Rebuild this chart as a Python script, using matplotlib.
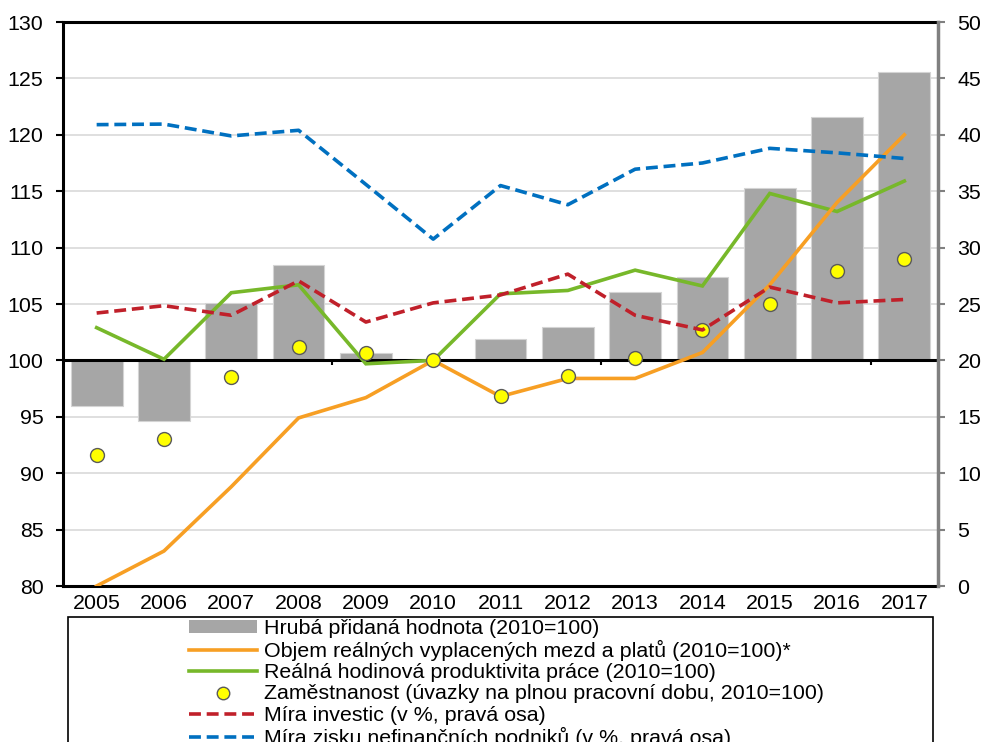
import matplotlib
matplotlib.use("Agg")
import matplotlib.pyplot as plt
from matplotlib.lines import Line2D
from matplotlib.patches import Patch, Rectangle
import numpy as np

plt.rcParams['font.family'] = ['Liberation Sans', 'DejaVu Sans']

years = ['2005', '2006', '2007', '2008', '2009', '2010', '2011', '2012',
         '2013', '2014', '2015', '2016', '2017']
gva = [96.0, 94.6, 105.1, 108.5, 100.7, 100.0, 101.9, 103.0, 106.1, 107.4, 115.3, 121.6, 125.6]
wages = [80.0, 83.1, 88.8, 94.9, 96.7, 100.0, 96.8, 98.4, 98.4, 100.7, 106.7, 114.0, 120.0]
productivity = [102.9, 100.1, 106.0, 106.7, 99.7, 100.0, 105.9, 106.2, 108.0, 106.6, 114.8, 113.2, 115.9]
employment = [91.6, 93.0, 98.5, 101.2, 100.7, 100.0, 96.8, 98.6, 100.2, 102.7, 105.0, 107.9, 109.0]
investment = [24.2, 24.85, 24.0, 27.05, 23.4, 25.1, 25.8, 27.65, 24.0, 22.7, 26.5, 25.1, 25.4]
profit = [40.9, 40.95, 39.9, 40.4, 35.6, 30.75, 35.5, 33.8, 36.95, 37.5, 38.8, 38.4, 37.9]

labels = ['Hrubá přidaná hodnota (2010=100)',
          'Objem reálných vyplacených mezd a platů (2010=100)*',
          'Reálná hodinová produktivita práce (2010=100)',
          'Zaměstnanost (úvazky na plnou pracovní dobu, 2010=100)',
          'Míra investic (v %, pravá osa)',
          'Míra zisku nefinančních podniků (v %, pravá osa)']

FS = 15.4
W, H = 983, 742
fig = plt.figure(figsize=(W / 100, H / 100), dpi=100)
ax = fig.add_axes([63 / W, 1 - 586 / H, (938 - 63) / W, (586 - 22) / H])
ax2 = ax.twinx()

x = np.arange(len(years))
base = 100
ax.set_xlim(-0.5, len(years) - 0.5)
ax.set_ylim(80, 130)
ax2.set_ylim(0, 50)

ax.set_yticks(np.arange(80, 131, 5))
ax2.set_yticks(np.arange(0, 51, 5))
ax.yaxis.grid(True, color='#D9D9D9', lw=1.2, zorder=0)
ax.set_axisbelow(True)

bar_col = '#A6A6A6'
ax.bar(x, np.array(gva) - base, bottom=base, width=0.77, color=bar_col,
       edgecolor='#D4D4D4', lw=0.8, zorder=2)
ax.axhline(base, color='black', lw=2.2, zorder=3)
ax.vlines([3.5, 7.5, 11.5], base - 0.45, base, color='black', lw=1.5, zorder=3)

ax.plot(x, productivity, color='#77B82A', lw=2.6, zorder=4, solid_joinstyle='miter')
ax.plot(x, wages, color='#F79F24', lw=2.6, zorder=5, solid_joinstyle='miter')
ax.plot(x, employment, ls='none', marker='o', ms=10, mfc='#FFFF00',
        mec='#5A5A5A', mew=1.0, zorder=6)

ax2.plot(x, investment, color='#C0202A', lw=2.6, dashes=(3.3, 1.6), zorder=5)
ax2.plot(x, profit, color='#0070C0', lw=2.6, dashes=(3.3, 1.6), zorder=5)

ax.set_xticks(x)
ax.set_xticklabels(years)
ax.tick_params(axis='x', length=0, pad=6, labelsize=FS)
ax.tick_params(axis='y', length=5, width=1.5, color='black', pad=9, labelsize=FS, direction='out')
ax2.tick_params(axis='y', length=5, width=1.5, color='#808080', pad=9, labelsize=FS, direction='out')

for s in ['left', 'top', 'bottom']:
    ax.spines[s].set_color('black')
    ax.spines[s].set_linewidth(2.2)
ax.spines['right'].set_visible(False)
for s in ['left', 'top', 'bottom']:
    ax2.spines[s].set_visible(False)
ax2.spines['right'].set_color('#808080')
ax2.spines['right'].set_linewidth(2.5)

# legend frame
fig.patches.append(Rectangle((68 / W, -0.05), (933 - 68) / W, (742 - 617) / H + 0.05,
                             transform=fig.transFigure, fill=False, ec='black', lw=1.2))

handles = [Patch(facecolor=bar_col, edgecolor='none'),
           Line2D([], [], color='#F79F24', lw=2.6),
           Line2D([], [], color='#77B82A', lw=2.6),
           Line2D([], [], ls='none', marker='o', ms=9, mfc='#FFFF00', mec='#5A5A5A', mew=1.0),
           Line2D([], [], color='#C0202A', lw=2.6, dashes=(3.3, 1.6)),
           Line2D([], [], color='#0070C0', lw=2.6, dashes=(3.3, 1.6))]
fig.legend(handles, labels, loc='upper left', bbox_to_anchor=(189 / W, 1 - 619 / H),
           frameon=False, fontsize=FS, labelspacing=0.1, handlelength=3.2,
           handleheight=0.5, handletextpad=0.32, borderpad=0, borderaxespad=0)

fig.savefig('out.png', dpi=100)
